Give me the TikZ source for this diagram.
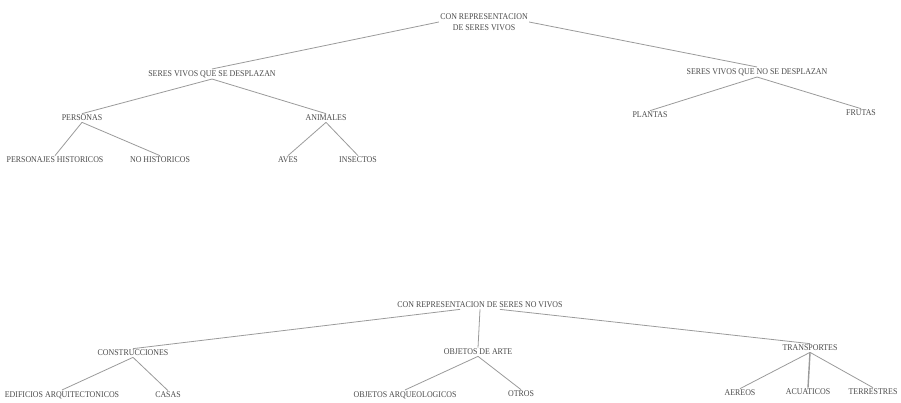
\documentclass[tikz,border=0pt]{standalone}
\usepackage{fontspec}
\newfontfamily\lblfont[FakeStretch=0.9]{Liberation Serif}
\definecolor{txtgray}{HTML}{4A4A4A}
\definecolor{lngray}{HTML}{9A9A9A}
\begin{document}
\begin{tikzpicture}[x=0.02cm,y=-0.02cm,
  lbl/.style={inner sep=0.6pt,text=txtgray,font=\lblfont\fontsize{5}{6.6}\selectfont,align=center},
  conn/.style={draw=lngray,line width=0.45pt}]
\useasboundingbox[fill=white] (0,0) rectangle (901,402);
% top tree
\node[lbl] (root) at (484,22) {CON REPRESENTACION\\DE SERES VIVOS};
\node[lbl] (ssd) at (212,74) {SERES VIVOS QUE SE DESPLAZAN};
\node[lbl] (snd) at (757,72) {SERES VIVOS QUE NO SE DESPLAZAN};
\node[lbl] (pers) at (82,118) {PERSONAS};
\node[lbl] (anim) at (326,118) {ANIMALES};
\node[lbl] (plan) at (650,115) {PLANTAS};
\node[lbl] (frut) at (861,113) {FRUTAS};
\node[lbl] (phis) at (55,160) {PERSONAJES HISTORICOS};
\node[lbl] (nhis) at (160,160) {NO HISTORICOS};
\node[lbl] (aves) at (288,160) {AVES};
\node[lbl] (inse) at (358,160) {INSECTOS};
\draw[conn] (root.west) -- (ssd.north);
\draw[conn] (root.east) -- (snd.north);
\draw[conn] (ssd.south) -- (pers.north);
\draw[conn] (ssd.south) -- (anim.north);
\draw[conn] (snd.south) -- (plan.north);
\draw[conn] (snd.south) -- (frut.north);
\draw[conn] (pers.south) -- (phis.north);
\draw[conn] (pers.south) -- (nhis.north);
\draw[conn] (anim.south) -- (aves.north);
\draw[conn] (anim.south) -- (inse.north);
% bottom tree
\node[lbl] (nroot) at (480,305) {CON REPRESENTACION DE SERES NO VIVOS};
\node[lbl] (cons) at (133,353) {CONSTRUCCIONES};
\node[lbl] (obje) at (478,352) {OBJETOS DE ARTE};
\node[lbl] (tran) at (810,348) {TRANSPORTES};
\node[lbl] (edif) at (62,395) {EDIFICIOS ARQUITECTONICOS};
\node[lbl] (casa) at (168,395) {CASAS};
\node[lbl] (oarq) at (405,395) {OBJETOS ARQUEOLOGICOS};
\node[lbl] (otro) at (521,394) {OTROS};
\node[lbl] (aere) at (740,393) {AEREOS};
\node[lbl] (acua) at (808,392) {ACUATICOS};
\node[lbl] (terr) at (873,392) {TERRESTRES};
\draw[conn] (nroot.south) ++(-20,0) coordinate (nl) (nl) -- (cons.north);
\draw[conn] (nroot.south) -- (obje.north);
\draw[conn] (nroot.south) ++(20,0) coordinate (nr) (nr) -- (tran.north);
\draw[conn] (cons.south) -- (edif.north);
\draw[conn] (cons.south) -- (casa.north);
\draw[conn] (obje.south) -- (oarq.north);
\draw[conn] (obje.south) -- (otro.north);
\draw[conn] (tran.south) -- (aere.north);
\draw[conn,line width=0.8pt] (tran.south) -- (acua.north);
\draw[conn] (tran.south) -- (terr.north);
\end{tikzpicture}
\end{document}
